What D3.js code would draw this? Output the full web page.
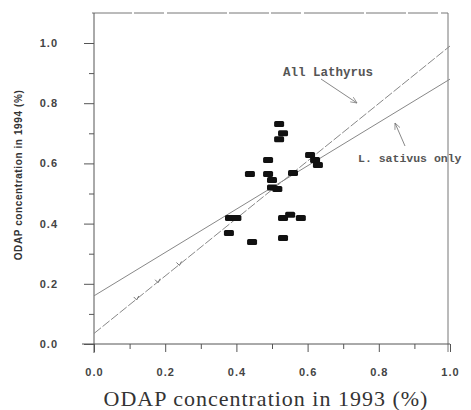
<!DOCTYPE html>
<html><head><meta charset="utf-8">
<script src="https://cdn.jsdelivr.net/npm/d3@7"></script>
<style>body{margin:0;background:#fff}svg{display:block}</style>
</head><body>
<svg id="c" width="471" height="410"></svg>
<script>
// Data
const x1993 = [0.52,0.531,0.52,0.489,0.438,0.489,0.50,0.50,0.515,0.559,0.607,0.621,0.629,
               0.382,0.40,0.379,0.444,0.531,0.531,0.551,0.581];
const y1994 = [0.731,0.70,0.68,0.611,0.565,0.565,0.545,0.52,0.515,0.568,0.628,0.611,0.595,
               0.419,0.419,0.369,0.339,0.352,0.419,0.429,0.419];
const lineNames = ["L. sativus only","All Lathyrus"];
const lineIntercepts = [0.16,0.035];
const lineSlopes = [0.72,0.955];
const lineMarks = [0.12,0.18,0.24];
const xTicks = [0,0.2,0.4,0.6,0.8,1.0];
const yTicks = [0,0.2,0.4,0.6,0.8,1.0];
const minorTicks = [0.1,0.3,0.5,0.7,0.9];
const xTitle = "ODAP concentration in 1993 (%)";
const yTitle = "ODAP concentration in 1994 (%)";

const svg = d3.select("#c");
const x = d3.scaleLinear().domain([0,1]).range([94,450]);
const y = d3.scaleLinear().domain([0,1]).range([344,43]);
const axCol = "#555";

// frame (top, right)
svg.append("line").attr("x1",92).attr("x2",448).attr("y1",13).attr("y2",13)
  .attr("stroke","#777").attr("stroke-width",1).attr("stroke-dasharray","40,2,30,3,60,2");
svg.append("line").attr("x1",448).attr("x2",448).attr("y1",13).attr("y2",352)
  .attr("stroke","#777").attr("stroke-width",1);

// bottom axis
const xAxis = d3.axisBottom(x).tickValues(xTicks).tickSize(8).tickFormat(d3.format(".1f"));
const gx = svg.append("g").attr("transform","translate(0,344)").call(xAxis);
gx.select(".domain").remove();
gx.append("line").attr("x1",82).attr("x2",450).attr("stroke",axCol);
gx.selectAll(".tick line").attr("stroke",axCol);
gx.selectAll(".tick text").attr("y",24).attr("fill","#444")
  .style("font","bold 11px Arial, 'Liberation Sans', sans-serif").style("letter-spacing","1px");
svg.append("g").attr("transform","translate(0,344)")
  .call(d3.axisBottom(x).tickValues(minorTicks).tickSize(5).tickFormat(""))
  .call(g=>{g.select(".domain").remove();g.selectAll("line").attr("stroke",axCol);});

// left axis
const yAxis = d3.axisLeft(y).tickValues(yTicks).tickSize(10).tickFormat(d3.format(".1f"));
const gy = svg.append("g").attr("transform","translate(94,0)").call(yAxis);
gy.select(".domain").remove();
gy.append("line").attr("y1",13).attr("y2",353).attr("stroke",axCol);
gy.selectAll(".tick line").attr("stroke",axCol);
gy.selectAll(".tick text").attr("x",-36).attr("fill","#444")
  .style("font","bold 11px Arial, 'Liberation Sans', sans-serif").style("letter-spacing","1px");
svg.append("g").attr("transform","translate(94,0)")
  .call(d3.axisLeft(y).tickValues(minorTicks).tickSize(5).tickFormat(""))
  .call(g=>{g.select(".domain").remove();g.selectAll("line").attr("stroke",axCol);});

// regression lines
const dashes = [null,"9,2"];
lineIntercepts.forEach((b,i)=>{
  svg.append("line")
    .attr("x1",x(0)).attr("y1",y(b))
    .attr("x2",x(1)).attr("y2",y(b+lineSlopes[i]))
    .attr("stroke","#888").attr("stroke-width",1)
    .attr("stroke-dasharray",dashes[i]);
});
// small marks on the All Lathyrus line
lineMarks.forEach(m=>{
  const px = x(m), py = y(lineIntercepts[1]+lineSlopes[1]*m);
  svg.append("path").attr("d",`M${px-3},${py-2}L${px},${py+1}L${px+2},${py-3}`)
    .attr("fill","none").attr("stroke","#777").attr("stroke-width",1);
});

// points
svg.append("g").selectAll("rect").data(x1993).join("rect")
  .attr("x",(d)=>x(d)-5).attr("y",(d,i)=>y(y1994[i])-3)
  .attr("width",10).attr("height",6).attr("rx",1.5)
  .attr("fill","#111");

// annotations
svg.append("defs").append("marker").attr("id","ah").attr("viewBox","0 0 10 10")
  .attr("refX",9).attr("refY",5).attr("markerWidth",7).attr("markerHeight",7)
  .attr("orient","auto").append("path").attr("d","M0,1L9,5L0,9").attr("fill","none").attr("stroke","#777");
const annFont = "bold 12.5px 'Liberation Mono', 'Courier New', monospace";
svg.append("text").attr("x",283).attr("y",76).text(lineNames[1])
  .attr("fill","#555").style("font",annFont);
svg.append("line").attr("x1",321).attr("y1",79).attr("x2",357).attr("y2",103)
  .attr("stroke","#888").attr("marker-end","url(#ah)");
svg.append("text").attr("x",358).attr("y",162).text(lineNames[0])
  .attr("fill","#555").style("font","bold 11.5px 'Liberation Mono', 'Courier New', monospace");
svg.append("line").attr("x1",405).attr("y1",146).attr("x2",395).attr("y2",123)
  .attr("stroke","#888").attr("marker-end","url(#ah)");

// titles
svg.append("text").attr("x",266).attr("y",406).attr("text-anchor","middle")
  .attr("fill","#333").style("font","22px 'Liberation Serif', 'Times New Roman', serif")
  .style("letter-spacing","1px")
  .text(xTitle);
svg.append("text").attr("transform","translate(22,175) rotate(-90)").attr("text-anchor","middle")
  .attr("fill","#333").style("font","bold 10px Arial, 'Liberation Sans', sans-serif")
  .style("letter-spacing","0.6px")
  .text(yTitle);
</script>
</body></html>
